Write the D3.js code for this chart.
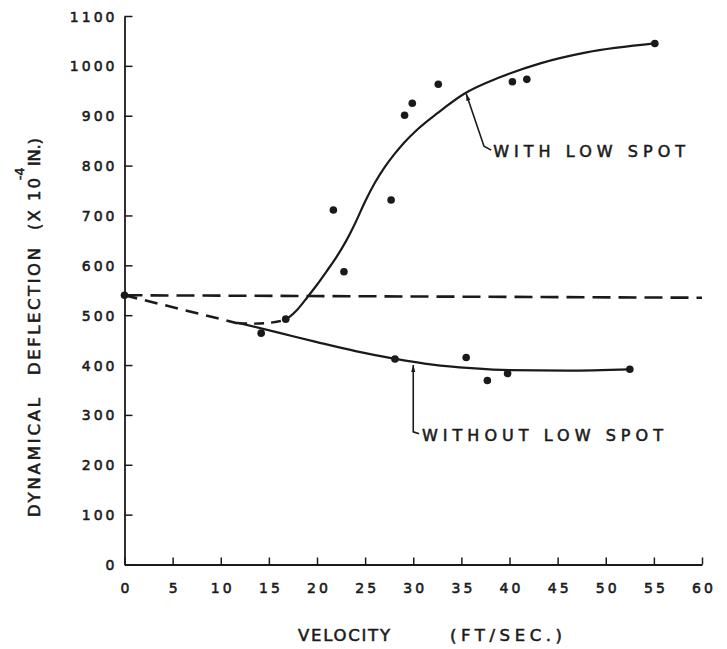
<!DOCTYPE html>
<html><head><meta charset="utf-8">
<script src="https://cdn.jsdelivr.net/npm/d3@7"></script>
<style>body{margin:0;background:#fff}</style>
</head><body>
<svg id="c" width="727" height="649"></svg>
<script>
// ---- data (velocity ft/sec, deflection x10^-4 in) ----
const xTickValues = [0,5,10,15,20,25,30,35,40,45,50,55,60];
const yTickValues = [0,100,200,300,400,500,600,700,800,900,1000,1100];
const originPoint = [[0,540]];
const withLowSpotPoints = [[16.75,492],[21.7,711],[22.8,587],[27.7,731],[29.1,901],[29.9,925],[32.6,963],[40.3,968],[41.8,973],[55.1,1045]];
const withoutLowSpotPoints = [[14.2,464],[28.1,412],[35.5,415],[37.7,369],[39.8,383],[52.5,391.5]];
const withCurveDashed = [[11.7,484],[13.5,483],[15.2,485]];
const withCurve = [[16.75,492],[18,512],[19,536],[20,561],[21,588],[22,616],[23,648],[24,686],[25,728],[26,765],[27,796],[28,822],[29,845],[30.4,872],[32.5,905],[35.3,944],[39,977],[43.2,1005],[48,1027],[55.1,1045]];
const withoutCurve = [[11.7,485],[16,465],[20,446],[24,428],[28,413],[32,401],[36,394],[40,390],[46,389],[52.5,391.5]];
const dashedLevel = [[0,540],[60,535]];
const dashedLead = [[0,540],[11.7,484]];
const withLabel = {text:"WITH LOW SPOT", leader:[[38.1,831],[37.35,839],[35.5,944]], at:[38.3,819]};
const withoutLabel = {text:"WITHOUT LOW SPOT", leader:[[30.6,262],[30,266],[30,400]], at:[30.9,250]};
const xTitle = ["VELOCITY","(FT/SEC.)"];
const yTitle = ["DYNAMICAL","DEFLECTION","(X 10","IN.)"];

// ---- layout ----
const svg = d3.select("#c");
svg.append("rect").attr("width",727).attr("height",649).attr("fill","#fff");
const ink = "#1a1a1a";
const font = "DejaVu Sans, sans-serif";
const x = d3.scaleLinear().domain([0,60]).range([124.5,702]);
const y = d3.scaleLinear().domain([0,1100]).range([564.5,16]);

const defs = svg.append("defs");
defs.append("marker").attr("id","ah").attr("viewBox","0 -4 10 8")
  .attr("refX",10).attr("refY",0).attr("markerWidth",7).attr("markerHeight",6)
  .attr("markerUnits","userSpaceOnUse").attr("orient","auto")
  .append("path").attr("d","M0,-3L10,0L0,3Z").attr("fill",ink);
const splitX = x(withCurve[0][0]);
defs.append("clipPath").attr("id","clipL").append("rect")
  .attr("x",0).attr("y",0).attr("width",splitX).attr("height",649);
defs.append("clipPath").attr("id","clipR").append("rect")
  .attr("x",splitX).attr("y",0).attr("width",727-splitX).attr("height",649);

function heavy(sel){ return sel.attr("stroke",ink).attr("stroke-width",0.55).attr("fill",ink); }

// axes
const gx = svg.append("g").attr("transform",`translate(0,${y(0)})`)
  .call(d3.axisBottom(x).tickValues(xTickValues).tickFormat(d3.format("d"))
    .tickSizeInner(-7).tickSizeOuter(0).tickPadding(19));
const gy = svg.append("g").attr("transform",`translate(${x(0)},0)`)
  .call(d3.axisLeft(y).tickValues(yTickValues).tickFormat(d3.format("d"))
    .tickSizeInner(-8).tickSizeOuter(0).tickPadding(7));
[gx,gy].forEach(g=>{
  g.select(".domain").attr("stroke",ink).attr("stroke-width",1.8);
  g.selectAll(".tick line").attr("stroke",ink).attr("stroke-width",1.5);
  heavy(g.selectAll(".tick text")).attr("font-family",font)
    .attr("font-size",14).attr("letter-spacing",3);
});
gx.selectAll(".tick text").attr("dx",1.5);
gy.selectAll(".tick text").attr("dy","0.36em");

// lines
const line = d3.line().x(d=>x(d[0])).y(d=>y(d[1])).curve(d3.curveMonotoneX);
const straight = d3.line().x(d=>x(d[0])).y(d=>y(d[1]));
svg.append("path").attr("d",straight(dashedLevel)).attr("fill","none").attr("stroke",ink)
  .attr("stroke-width",2.6).attr("stroke-dasharray","18,8");
svg.append("path").attr("d",straight(dashedLead)).attr("fill","none").attr("stroke",ink)
  .attr("stroke-width",2.6).attr("stroke-dasharray","13,8");
const fullWith = withCurveDashed.concat(withCurve);
svg.append("path").attr("d",line(fullWith)).attr("fill","none").attr("stroke",ink)
  .attr("stroke-width",2.4).attr("stroke-dasharray","10,7").attr("clip-path","url(#clipL)");
svg.append("path").attr("d",line(fullWith)).attr("fill","none").attr("stroke",ink)
  .attr("stroke-width",2.2).attr("clip-path","url(#clipR)");
svg.append("path").attr("d",line(withoutCurve)).attr("fill","none").attr("stroke",ink).attr("stroke-width",2.2);

// points
const pts = originPoint.concat(withLowSpotPoints, withoutLowSpotPoints);
svg.append("g").selectAll("circle").data(pts).join("circle")
  .attr("cx",d=>x(d[0])).attr("cy",d=>y(d[1])).attr("r",3.8).attr("fill",ink);

// annotations
[[withLabel,192],[withoutLabel,241]].forEach(([a,len])=>{
  svg.append("path").attr("d",straight(a.leader)).attr("fill","none").attr("stroke",ink)
    .attr("stroke-width",1.6).attr("marker-end","url(#ah)");
  heavy(svg.append("text")).attr("x",x(a.at[0])).attr("y",y(a.at[1])+1)
    .attr("font-family",font).attr("font-size",16)
    .attr("textLength",len).attr("lengthAdjust","spacing").text(a.text);
});

// x title
heavy(svg.append("text")).attr("x",298).attr("y",641).attr("font-family",font).attr("font-size",16.5)
  .attr("textLength",92).attr("lengthAdjust","spacing").text(xTitle[0]);
heavy(svg.append("text")).attr("x",450).attr("y",641).attr("font-family",font).attr("font-size",16.5)
  .attr("textLength",112).attr("lengthAdjust","spacing").text(xTitle[1]);

// y title (rotated), each word placed along the axis
const yParts = [[yTitle[0],517,119],[yTitle[1],375,127],[yTitle[2],230,52],[yTitle[3],166,28]];
yParts.forEach(([t,start,len])=>{
  heavy(svg.append("text")).attr("transform",`translate(40,${start}) rotate(-90)`)
    .attr("font-family",font).attr("font-size",16.5)
    .attr("textLength",len).attr("lengthAdjust","spacing").text(t);
});
heavy(svg.append("text")).attr("transform",`translate(24,180) rotate(-90)`)
  .attr("font-family",font).attr("font-size",12.5).text("-4");
</script>
</body></html>
